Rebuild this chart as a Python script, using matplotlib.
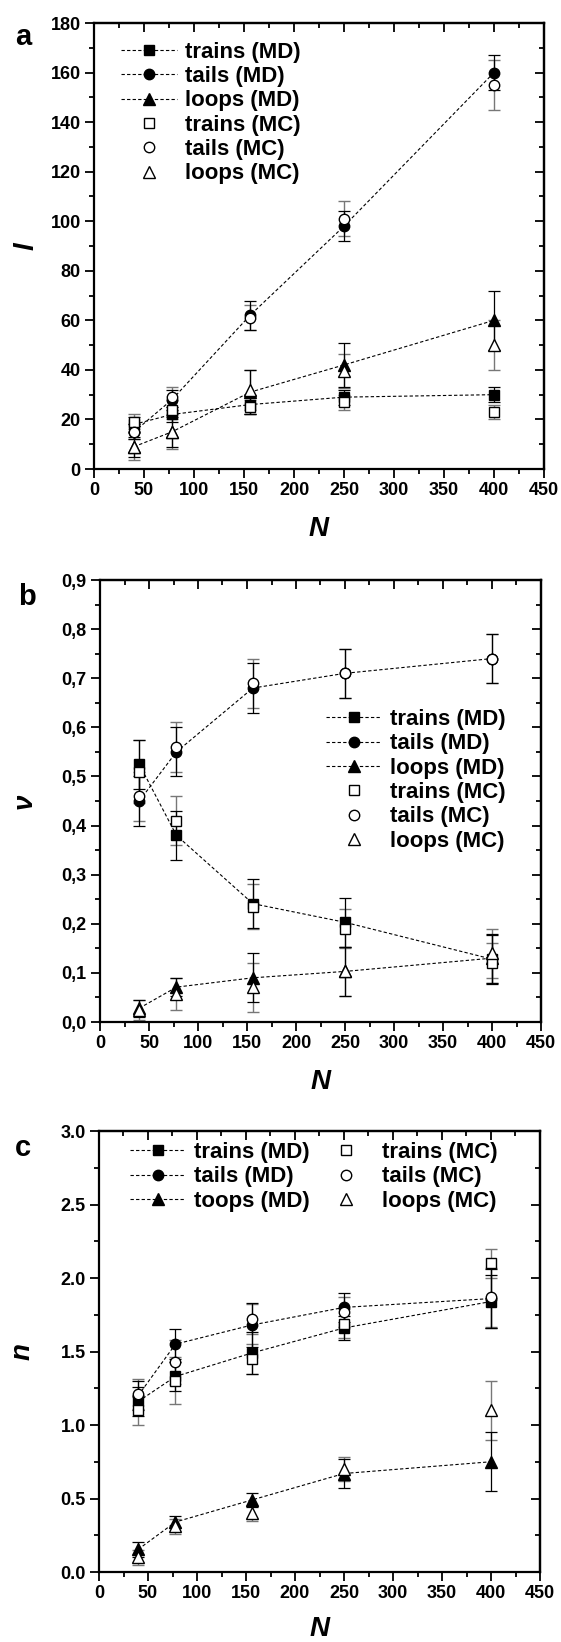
import matplotlib
matplotlib.use("Agg")
import matplotlib.pyplot as plt
from matplotlib.ticker import MultipleLocator, FuncFormatter

plt.rcParams['font.family'] = ['Liberation Sans', 'DejaVu Sans']
plt.rcParams['font.weight'] = 'bold'

# ---------------- data ----------------
N = [40, 78, 156, 250, 400]

# panel a : l
a_trains_md = [18, 22, 26, 29, 30]
a_trains_md_err = [3, 3, 4, 3, 3]
a_trains_mc = [19, 24, 25, 27, 23]
a_trains_mc_err = [3, 4, 3, 3, 3]
a_tails_md = [15, 28, 62, 98, 160]
a_tails_md_err = [3, 4, 6, 6, 7]
a_tails_mc = [15, 29, 61, 101, 155]
a_tails_mc_err = [3, 4, 5, 7, 10]
a_loops_md = [9, 15, 31, 42, 60]
a_loops_md_err = [4, 6, 9, 9, 12]
a_loops_mc = [9, 15, 32, 39.5, 50]
a_loops_mc_err = [5.5, 7, 8, 7, 10]

# panel b : nu
b_trains_md = [0.525, 0.38, 0.241, 0.203, 0.128]
b_trains_md_err = [0.05, 0.05, 0.05, 0.05, 0.05]
b_trains_mc = [0.51, 0.41, 0.235, 0.19, 0.12]
b_trains_mc_err = [0.065, 0.05, 0.045, 0.04, 0.04]
b_tails_md = [0.45, 0.55, 0.68, 0.71, 0.74]
b_tails_md_err = [0.05, 0.05, 0.05, 0.05, 0.05]
b_tails_mc = [0.46, 0.56, 0.69, 0.71, 0.74]
b_tails_mc_err = [0.05, 0.05, 0.05, 0.05, 0.05]
b_loops_md = [0.028, 0.071, 0.09, 0.103, 0.13]
b_loops_md_err = [0.017, 0.018, 0.05, 0.05, 0.05]
b_loops_mc = [0.024, 0.057, 0.071, 0.103, 0.14]
b_loops_mc_err = [0.02, 0.032, 0.05, 0.05, 0.05]

# panel c : n
c_trains_md = [1.16, 1.33, 1.49, 1.66, 1.84]
c_trains_md_err = [0.1, 0.1, 0.14, 0.08, 0.18]
c_trains_mc = [1.10, 1.30, 1.45, 1.69, 2.10]
c_trains_mc_err = [0.1, 0.16, 0.1, 0.1, 0.1]
c_tails_md = [1.20, 1.55, 1.68, 1.80, 1.86]
c_tails_md_err = [0.1, 0.1, 0.15, 0.1, 0.2]
c_tails_mc = [1.21, 1.43, 1.72, 1.77, 1.87]
c_tails_mc_err = [0.1, 0.15, 0.1, 0.1, 0.2]
c_loops_md = [0.154, 0.34, 0.49, 0.67, 0.75]
c_loops_md_err = [0.05, 0.04, 0.05, 0.1, 0.2]
c_loops_mc = [0.10, 0.31, 0.40, 0.70, 1.10]
c_loops_mc_err = [0.05, 0.05, 0.05, 0.08, 0.2]

labels_a = ["trains (MD)", "tails (MD)", "loops (MD)", "trains (MC)", "tails (MC)", "loops (MC)"]
labels_c = ["trains (MD)", "tails (MD)", "toops (MD)", "trains (MC)", "tails (MC)", "loops (MC)"]

W, H = 561, 1642
fig = plt.figure(figsize=(W / 100, H / 100), dpi=100)


def box(l, t, r, b):
    return [l / W, 1 - b / H, (r - l) / W, (b - t) / H]


TICKFS = 13
LEGFS = 16
LABFS = 20

markers = ['s', 'o', '^']
msizes = [6.5, 7.5, 8]


def draw(ax, md, md_err, mc, mc_err):
    for k in range(3):
        ax.errorbar(N, mc[k], yerr=mc_err[k], fmt='none', ecolor='#777777',
                    elinewidth=1.0, capsize=4, capthick=1.0, zorder=2)
    md_h = []
    for k in range(3):
        ax.errorbar(N, md[k], yerr=md_err[k], fmt='none', ecolor='black',
                    elinewidth=0.9, capsize=4, capthick=0.9, zorder=2)
        h, = ax.plot(N, md[k], linestyle=(0, (3, 2)), color='black', lw=0.8,
                     marker=markers[k], ms=msizes[k], mfc='black', mec='black',
                     zorder=3)
        md_h.append(h)
    mc_h = []
    for k in range(3):
        h, = ax.plot(N, mc[k], linestyle='none', marker=markers[k], ms=msizes[k],
                     mfc='white', mec='black', mew=1.0, zorder=4)
        mc_h.append(h)
    return md_h, mc_h


def style(ax, ylim, ymaj, ymin, fmt):
    ax.set_xlim(0, 450)
    ax.set_ylim(*ylim)
    ax.xaxis.set_major_locator(MultipleLocator(50))
    ax.xaxis.set_minor_locator(MultipleLocator(25))
    ax.yaxis.set_major_locator(MultipleLocator(ymaj))
    ax.yaxis.set_minor_locator(MultipleLocator(ymin))
    ax.yaxis.set_major_formatter(FuncFormatter(fmt))
    ax.xaxis.set_major_formatter(FuncFormatter(lambda v, p: f"{v:.0f}"))
    for s in ax.spines.values():
        s.set_linewidth(1.6)
    ax.tick_params(which='both', direction='out', top=False, right=False,
                   width=1.3, labelsize=TICKFS)
    ax.tick_params(which='major', length=6.5, pad=3)
    ax.tick_params(which='minor', length=3.5)
    sec = ax.secondary_xaxis('top')
    sec.xaxis.set_major_locator(MultipleLocator(50))
    sec.xaxis.set_minor_locator(MultipleLocator(25))
    sec.tick_params(which='both', direction='in', width=1.3, labeltop=False)
    sec.tick_params(which='major', length=6.5)
    sec.tick_params(which='minor', length=3.5)
    sec.spines['top'].set_linewidth(1.6)
    sec2 = ax.secondary_yaxis('right')
    sec2.yaxis.set_major_locator(MultipleLocator(ymaj))
    sec2.yaxis.set_minor_locator(MultipleLocator(ymin))
    sec2.tick_params(which='both', direction='in', width=1.3, labelright=False)
    sec2.tick_params(which='major', length=6.5)
    sec2.tick_params(which='minor', length=3.5)
    sec2.spines['right'].set_linewidth(1.6)
    for lab in ax.get_xticklabels() + ax.get_yticklabels():
        lab.set_fontweight('bold')


def labels(ax, ylab, xoff, yoff):
    ax.set_xlabel('N', fontsize=LABFS, fontweight='bold', fontstyle='italic')
    ax.set_ylabel(ylab, fontsize=LABFS, fontweight='bold', fontstyle='italic')
    ax.xaxis.set_label_coords(0.5, xoff)
    ax.yaxis.set_label_coords(yoff, 0.5)
    ax.xaxis.label.set_va('center')
    ax.yaxis.label.set_va('center')


legkw = dict(frameon=False, prop={'weight': 'bold', 'size': LEGFS},
             handlelength=2.5, handletextpad=0.4, labelspacing=0.15,
             borderpad=0, borderaxespad=0, numpoints=1)

# ---------- panel a ----------
axa = fig.add_axes(box(94, 23, 544, 469))
md_h, mc_h = draw(axa, [a_trains_md, a_tails_md, a_loops_md],
                  [a_trains_md_err, a_tails_md_err, a_loops_md_err],
                  [a_trains_mc, a_tails_mc, a_loops_mc],
                  [a_trains_mc_err, a_tails_mc_err, a_loops_mc_err])
style(axa, (0, 180), 20, 10, lambda v, p: f"{v:.0f}")
axa.legend(md_h + mc_h, labels_a, loc='upper left', bbox_to_anchor=(0.06, 0.958), **legkw)
labels(axa, 'l', -0.135, -0.15)
fig.text(23 / W, 1 - 37 / H, 'a', fontsize=21, fontweight='bold', ha='center', va='center')

# ---------- panel b ----------
axb = fig.add_axes(box(100, 580, 541, 1022))
md_h, mc_h = draw(axb, [b_trains_md, b_tails_md, b_loops_md],
                  [b_trains_md_err, b_tails_md_err, b_loops_md_err],
                  [b_trains_mc, b_tails_mc, b_loops_mc],
                  [b_trains_mc_err, b_tails_mc_err, b_loops_mc_err])
style(axb, (0, 0.9), 0.1, 0.05, lambda v, p: f"{v:.1f}".replace('.', ','))
axb.legend(md_h + mc_h, labels_a, loc='upper left', bbox_to_anchor=(0.512, 0.708), **legkw)
labels(axb, 'ν', -0.135, -0.17)
fig.text(27 / W, 1 - 597 / H, 'b', fontsize=21, fontweight='bold', ha='center', va='center')

# ---------- panel c ----------
axc = fig.add_axes(box(99, 1131, 540, 1572))
md_h, mc_h = draw(axc, [c_trains_md, c_tails_md, c_loops_md],
                  [c_trains_md_err, c_tails_md_err, c_loops_md_err],
                  [c_trains_mc, c_tails_mc, c_loops_mc],
                  [c_trains_mc_err, c_tails_mc_err, c_loops_mc_err])
style(axc, (0, 3.0), 0.5, 0.25, lambda v, p: f"{v:.1f}")
axc.legend(md_h + mc_h, labels_c, loc='upper left', bbox_to_anchor=(0.07, 0.975),
           ncol=2, columnspacing=0.35, **legkw)
labels(axc, 'n', -0.13, -0.173)
fig.text(23 / W, 1 - 1148 / H, 'c', fontsize=21, fontweight='bold', ha='center', va='center')

fig.savefig('out.png', dpi=100)
